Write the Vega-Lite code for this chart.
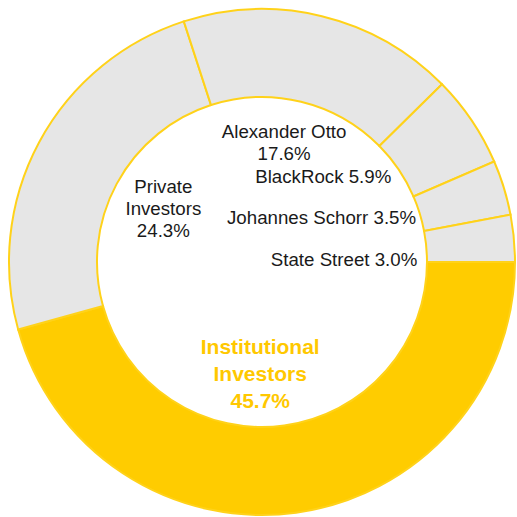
{
  "$schema": "https://vega.github.io/schema/vega-lite/v6.json",
  "width": 510,
  "height": 510,
  "autosize": {"type": "none"},
  "padding": {"left": 7, "top": 7, "right": 0, "bottom": 0},
  "background": "white",
  "view": {"stroke": null},
  "config": {"text": {"font": "Liberation Sans"}},
  "data": {
    "values": [
      {"ord": 1, "name": "Institutional Investors", "value": 45.7, "label": "Institutional\nInvestors\n45.7%", "group": "inst"},
      {"ord": 2, "name": "Private Investors", "value": 24.3, "label": "Private\nInvestors\n24.3%", "group": "big"},
      {"ord": 3, "name": "Alexander Otto", "value": 17.6, "label": "Alexander Otto\n17.6%", "group": "otto"},
      {"ord": 4, "name": "BlackRock", "value": 5.9, "label": "BlackRock 5.9%", "group": "br"},
      {"ord": 5, "name": "Johannes Schorr", "value": 3.5, "label": "Johannes Schorr 3.5%", "group": "js"},
      {"ord": 6, "name": "State Street", "value": 3.0, "label": "State Street 3.0%", "group": "ss"}
    ]
  },
  "encoding": {
    "theta": {"field": "value", "type": "quantitative", "stack": true, "scale": {"domain": [0, 100], "range": [1.5707963, 7.8539816]}},
    "order": {"field": "ord", "type": "quantitative"}
  },
  "layer": [
    {
      "mark": {"type": "arc", "innerRadius": 165, "outerRadius": 253, "stroke": "#FFD21A", "strokeWidth": 2},
      "encoding": {
        "fill": {"condition": {"test": "datum.group == 'inst'", "value": "#FFCC00"}, "value": "#E6E6E6"}
      }
    },
    {
      "mark": {"type": "text", "radius": 113, "dx": -17, "dy": -26, "align": "center", "baseline": "middle", "fontSize": 21, "fontWeight": "bold", "lineHeight": 27, "lineBreak": "\n", "color": "#FFC800"},
      "encoding": {
        "text": {"condition": {"test": "datum.group == 'inst'", "field": "label"}, "value": ""}
      }
    },
    {
      "mark": {"type": "text", "radius": 112, "dy": -22, "align": "center", "baseline": "middle", "fontSize": 18.7, "lineHeight": 22, "lineBreak": "\n", "color": "#1a1a1a"},
      "encoding": {
        "text": {"condition": {"test": "datum.group == 'big'", "field": "label"}, "value": ""}
      }
    },
    {
      "mark": {"type": "text", "radius": 123, "dx": -7, "dy": -10, "align": "center", "baseline": "middle", "fontSize": 18.7, "lineHeight": 22, "lineBreak": "\n", "color": "#1a1a1a"},
      "encoding": {
        "text": {"condition": {"test": "datum.group == 'otto'", "field": "label"}, "value": ""}
      }
    },
    {
      "mark": {"type": "text", "radius": 156, "dy": 2, "align": "right", "baseline": "middle", "fontSize": 18.7, "color": "#1a1a1a"},
      "encoding": {
        "text": {"condition": {"test": "datum.group == 'br'", "field": "label"}, "value": ""}
      }
    },
    {
      "mark": {"type": "text", "radius": 156, "dx": 5, "dy": 2, "align": "right", "baseline": "middle", "fontSize": 18.7, "color": "#1a1a1a"},
      "encoding": {
        "text": {"condition": {"test": "datum.group == 'js'", "field": "label"}, "value": ""}
      }
    },
    {
      "mark": {"type": "text", "radius": 156, "dy": 13, "align": "right", "baseline": "middle", "fontSize": 18.7, "color": "#1a1a1a"},
      "encoding": {
        "text": {"condition": {"test": "datum.group == 'ss'", "field": "label"}, "value": ""}
      }
    }
  ]
}
